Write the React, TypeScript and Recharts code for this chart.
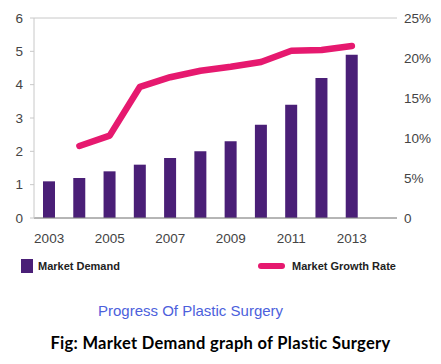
import React from 'react';
import { ComposedChart, Bar, Line, XAxis, YAxis, CartesianGrid } from 'recharts';

const years = ['2003', '2004', '2005', '2006', '2007', '2008', '2009', '2010', '2011', '2012', '2013'];
const marketDemand = [1.1, 1.2, 1.4, 1.6, 1.8, 2.0, 2.3, 2.8, 3.4, 4.2, 4.9];
const marketGrowthRate: (number | null)[] = [null, 9.0, 10.3, 16.4, 17.6, 18.4, 18.9, 19.5, 20.9, 21.0, 21.5];
const leftTicks = [0, 1, 2, 3, 4, 5, 6];
const rightTicks = [0, 5, 10, 15, 20, 25];

const data = years.map((y, i) => ({ year: y, demand: marketDemand[i], growth: marketGrowthRate[i] }));

const PURPLE = '#4a1f77';
const PINK = '#e6196f';
const tickFont = { fontFamily: '"Liberation Sans", Arial, sans-serif', fontSize: 13.5, fill: '#444' };

export default function App() {
  return (
    <div style={{ position: 'absolute', left: 0, top: 0, width: 441, height: 364, background: '#fff' }}>
      <ComposedChart width={441} height={250} data={data} margin={{ top: 18, right: 0, left: 0, bottom: 0 }}>
        <CartesianGrid vertical={false} stroke="#c8c8c8" strokeWidth={1} />
        <XAxis
          dataKey="year"
          interval={1}
          height={32}
          tickLine={false}
          axisLine={{ stroke: '#888' }}
          tick={tickFont}
          tickMargin={9}
          padding={{ left: 0, right: 30 }}
        />
        <YAxis
          yAxisId="left"
          orientation="left"
          width={34}
          domain={[0, 6]}
          ticks={leftTicks}
          interval={0}
          axisLine={{ stroke: '#c8c8c8' }}
          tickLine={{ stroke: '#c8c8c8' }}
          tickSize={4}
          tickMargin={7}
          tick={tickFont}
        />
        <YAxis
          yAxisId="right"
          orientation="right"
          width={44}
          domain={[0, 25]}
          ticks={rightTicks}
          interval={0}
          axisLine={false}
          tickLine={false}
          tickSize={0}
          tickMargin={7}
          tick={tickFont}
          tickFormatter={(v: number) => (v === 0 ? '0' : `${v}%`)}
        />
        <Bar yAxisId="left" dataKey="demand" fill={PURPLE} barSize={12} isAnimationActive={false} />
        <Line
          yAxisId="right"
          dataKey="growth"
          type="linear"
          stroke={PINK}
          strokeWidth={6.5}
          strokeLinecap="round"
          strokeLinejoin="round"
          dot={false}
          activeDot={false}
          connectNulls={false}
          isAnimationActive={false}
        />
      </ComposedChart>

      <div style={{ position: 'absolute', left: 21, top: 259, width: 12, height: 14, background: PURPLE }} />
      <div style={{ position: 'absolute', left: 38, top: 258, fontFamily: '"Liberation Sans", Arial, sans-serif', fontSize: 11, fontWeight: 600, color: '#222', lineHeight: '16px', whiteSpace: 'nowrap' }}>
        Market Demand
      </div>
      <div style={{ position: 'absolute', left: 258, top: 263, width: 27, height: 6, borderRadius: 3, background: PINK }} />
      <div style={{ position: 'absolute', left: 292, top: 258, fontFamily: '"Liberation Sans", Arial, sans-serif', fontSize: 11, fontWeight: 600, color: '#222', lineHeight: '16px', whiteSpace: 'nowrap' }}>
        Market Growth Rate
      </div>

      <div style={{ position: 'absolute', left: 98, top: 302, fontFamily: '"Liberation Sans", Arial, sans-serif', fontSize: 15, color: '#4c5fdc', lineHeight: '18px', whiteSpace: 'nowrap' }}>
        Progress Of Plastic Surgery
      </div>
      <div style={{ position: 'absolute', left: 0, width: 441, top: 332, textAlign: 'center', fontFamily: 'Lato, sans-serif', fontSize: 16.5, letterSpacing: 0.3, fontWeight: 700, color: '#000', lineHeight: '22px', whiteSpace: 'nowrap' }}>
        Fig: Market Demand graph of Plastic Surgery
      </div>
    </div>
  );
}
